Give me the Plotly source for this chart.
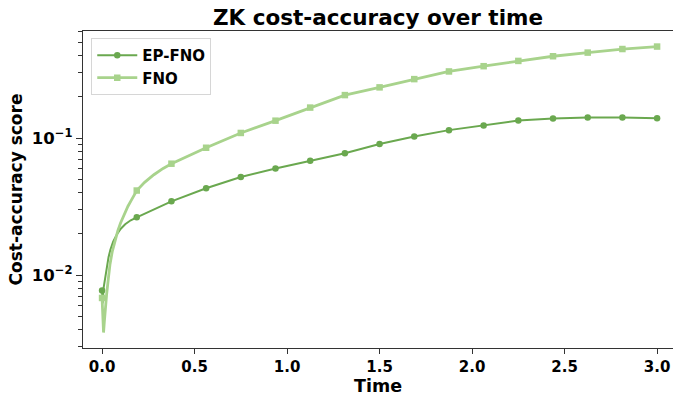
import plotly.graph_objects as go

# EP-FNO: dense solver output (fine steps near t=0), markers every 0.1875
ep_time = [0.0, 0.003, 0.008, 0.016, 0.025, 0.035, 0.045, 0.06, 0.08, 0.1, 0.125, 0.155, 0.1875,
           0.375, 0.5625, 0.75, 0.9375, 1.125, 1.3125, 1.5, 1.6875, 1.875,
           2.0625, 2.25, 2.4375, 2.625, 2.8125, 3.0]
ep_score = [0.0077, 0.0062, 0.0080, 0.0096, 0.0115, 0.0135, 0.0153, 0.0175, 0.0198, 0.0217, 0.0235, 0.0251, 0.0264,
            0.0345, 0.0430, 0.0520, 0.0600, 0.0684, 0.0774, 0.0905, 0.1027, 0.1143,
            0.1234, 0.1342, 0.1388, 0.1411, 0.1411, 0.1397]

# FNO
fno_time = [0.0, 0.004, 0.008, 0.012, 0.018, 0.025, 0.034, 0.043, 0.055, 0.07, 0.085, 0.1, 0.12, 0.14, 0.16,
            0.1875, 0.23, 0.28, 0.33, 0.375, 0.5625, 0.75, 0.9375, 1.125, 1.3125, 1.5, 1.6875, 1.875,
            2.0625, 2.25, 2.4375, 2.625, 2.8125, 3.0]
fno_score = [0.0068, 0.0045, 0.0038, 0.0045, 0.0058, 0.0073, 0.0094, 0.0120, 0.0148, 0.0180, 0.0210, 0.0240,
             0.0280, 0.0318, 0.0355, 0.0414, 0.0475, 0.0540, 0.0600, 0.0650, 0.0850, 0.1090, 0.1340,
             0.1670, 0.2060, 0.2346, 0.2695, 0.3066, 0.3350, 0.3660, 0.3960, 0.4210, 0.4470, 0.4660]

MARK_STEP = 0.1875
x_ticks = [0.0, 0.5, 1.0, 1.5, 2.0, 2.5, 3.0]
x_tick_labels = ["0.0", "0.5", "1.0", "1.5", "2.0", "2.5", "3.0"]
y_ticks = [0.01, 0.1]
y_tick_labels = ["10<sup>−2</sup>", "10<sup>−1</sup>"]
y_minor = [0.003, 0.004, 0.005, 0.006, 0.007, 0.008, 0.009,
           0.02, 0.03, 0.04, 0.05, 0.06, 0.07, 0.08, 0.09,
           0.2, 0.3, 0.4, 0.5, 0.6]

EP_COLOR = "#6aa84f"
FNO_COLOR = "#a8d38c"
FONT = "DejaVu Sans"


def marked(times, values):
    idx = [i for i, t in enumerate(times)
           if abs(t / MARK_STEP - round(t / MARK_STEP)) < 1e-9]
    return [times[i] for i in idx], [values[i] for i in idx]


fig = go.Figure()

series = [
    ("EP-FNO", ep_time, ep_score, EP_COLOR, "circle", 6.5, 2.0),
    ("FNO", fno_time, fno_score, FNO_COLOR, "square", 6.5, 2.8),
]
for name, t, v, color, symbol, msize, lw in series:
    fig.add_trace(go.Scatter(
        x=t, y=v, mode="lines", line=dict(color=color, width=lw),
        showlegend=False, legendgroup=name, hoverinfo="skip"))
    mt, mv = marked(t, v)
    fig.add_trace(go.Scatter(
        x=mt, y=mv, mode="markers", marker=dict(color=color, size=msize, symbol=symbol),
        showlegend=False, legendgroup=name))
    # legend entry
    fig.add_trace(go.Scatter(
        x=[None], y=[None], mode="lines+markers", name=name, legendgroup=name,
        line=dict(color=color, width=lw), marker=dict(color=color, size=msize, symbol=symbol)))

fig.update_layout(
    width=673, height=398,
    margin=dict(l=83, r=0, t=31, b=50),
    paper_bgcolor="white", plot_bgcolor="white",
    font=dict(family=FONT, color="#111", size=12),
    title=dict(text="ZK cost-accuracy over time", x=(83 + 673) / 2 / 673, xanchor="center",
               y=1 - 17 / 398, yanchor="middle", yref="container",
               font=dict(family=FONT, size=21.5, weight="bold", color="#000")),
    legend=dict(x=0.014, y=0.978, xanchor="left", yanchor="top",
                bgcolor="white", bordercolor="#d6d6d6", borderwidth=1,
                font=dict(family=FONT, size=15, weight="bold", color="#000"),
                tracegroupgap=0, itemwidth=40),
)

fig.update_xaxes(
    range=[-0.103, 3.086], tickvals=x_ticks, ticktext=x_tick_labels,
    ticks="outside", ticklen=5, tickwidth=1.2, tickcolor="#333",
    showline=True, linecolor="#333", linewidth=1.3, mirror=True,
    showgrid=False, zeroline=False,
    tickfont=dict(family=FONT, size=15, weight="bold", color="#000"),
    title=dict(text="Time", standoff=2, font=dict(family=FONT, size=17.5, weight="bold", color="#000")),
)
fig.update_yaxes(
    type="log", range=[-2.533, -0.218], tickvals=y_ticks, ticktext=y_tick_labels,
    ticks="outside", ticklen=6, tickwidth=1.2, tickcolor="#333",
    minor=dict(tickvals=y_minor, ticks="outside", ticklen=3.5, tickwidth=1, tickcolor="#333"),
    showline=True, linecolor="#333", linewidth=1.3,
    showgrid=False, zeroline=False,
    tickfont=dict(family=FONT, size=16.5, weight="bold", color="#000"),
    title=dict(text="Cost-accuracy score", standoff=4,
               font=dict(family=FONT, size=17, weight="bold", color="#000")),
)

fig.write_html("out.html")
